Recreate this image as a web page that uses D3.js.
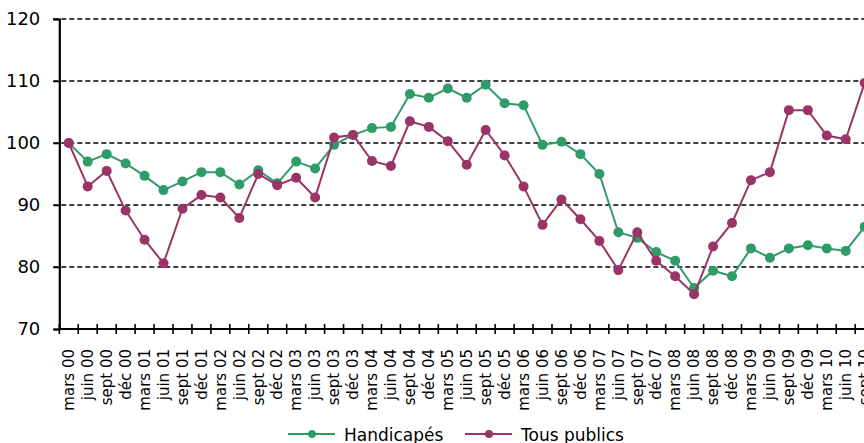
<!DOCTYPE html>
<html>
<head>
<meta charset="utf-8">
<script src="https://cdn.jsdelivr.net/npm/d3@7"></script>
<style>
  body { margin: 0; background: #fff; }
  svg { display: block; font-family: "DejaVu Sans", sans-serif; }
  .grid line { stroke: #000; stroke-dasharray: 5,3; stroke-width: 1.6; }
  .line { fill: none; stroke-width: 2; }
</style>
</head>
<body>
<div id="chart"></div>
<script>
const width = 864, height = 443;
const plot = { left: 59.3, top: 19, bottom: 329, step: 18.95 };

const quarters = ["mars", "juin", "sept", "déc"];
const categories = [];
for (let y = 0; y <= 10; y++) {
  quarters.forEach(function(q, i) {
    if (y === 10 && i > 2) return;
    categories.push(q + " " + String(y).padStart(2, "0"));
  });
}

const handicapes = [100, 97.0, 98.2, 96.7, 94.7, 92.4, 93.8, 95.3, 95.3, 93.3, 95.6, 93.5,
  97.0, 95.9, 99.7, 101.3, 102.4, 102.6, 107.9, 107.3, 108.8, 107.3, 109.4, 106.4,
  106.1, 99.7, 100.2, 98.2, 95.0, 85.6, 84.7, 82.4, 81.0, 76.6, 79.4, 78.5,
  83.0, 81.5, 83.0, 83.5, 83.0, 82.6, 86.5];
const tousPublics = [100, 93.0, 95.5, 89.1, 84.4, 80.6, 89.4, 91.6, 91.2, 87.9, 95.0, 93.2,
  94.4, 91.2, 100.9, 101.3, 97.1, 96.3, 103.5, 102.6, 100.3, 96.5, 102.1, 98.0,
  93.0, 86.8, 90.9, 87.7, 84.2, 79.5, 85.6, 81.0, 78.5, 75.6, 83.3, 87.1,
  94.0, 95.3, 105.3, 105.3, 101.2, 100.6, 109.7];
const yTicks = [70, 80, 90, 100, 110, 120];

const series = [
  { name: "Handicapés", values: handicapes, color: "#2f9b68" },
  { name: "Tous publics", values: tousPublics, color: "#9b3466" }
];

const x = d3.scaleBand()
  .domain(categories)
  .range([plot.left, plot.left + categories.length * plot.step])
  .padding(0);

const y = d3.scaleLinear()
  .domain([70, 120])
  .range([plot.bottom, plot.top]);

const svg = d3.select("#chart").append("svg")
  .attr("width", width)
  .attr("height", height);

// dashed gridlines
svg.append("g")
  .attr("class", "grid")
  .selectAll("line")
  .data(yTicks.filter(function(d) { return d > 70; }))
  .enter().append("line")
    .attr("x1", plot.left - 6)
    .attr("x2", width)
    .attr("y1", function(d) { return y(d); })
    .attr("y2", function(d) { return y(d); });

// y axis
const yAxis = svg.append("g")
  .attr("transform", "translate(" + plot.left + ",0)")
  .call(d3.axisLeft(y).tickValues(yTicks).tickSize(6).tickPadding(13));
yAxis.select(".domain").attr("stroke-width", 2.2);
yAxis.selectAll(".tick line").attr("stroke-width", 1.6);
yAxis.selectAll("text").attr("font-size", 18).attr("fill", "#000")
  .attr("font-family", "DejaVu Sans, sans-serif");

// x axis labels
const xAxis = svg.append("g")
  .attr("transform", "translate(0," + plot.bottom + ")")
  .call(d3.axisBottom(x).tickSize(0).tickPadding(0));
xAxis.select(".domain").remove();
xAxis.selectAll("text")
  .attr("font-size", 15)
  .attr("fill", "#000")
  .attr("font-family", "DejaVu Sans, sans-serif")
  .attr("transform", "rotate(-90)")
  .attr("text-anchor", "end")
  .attr("dy", "0.35em")
  .attr("dx", "0")
  .attr("x", -20)
  .attr("y", 0);

// x axis line and boundary ticks
svg.append("line")
  .attr("x1", plot.left).attr("x2", width)
  .attr("y1", plot.bottom).attr("y2", plot.bottom)
  .attr("stroke", "#000").attr("stroke-width", 2.2);
svg.append("g").selectAll("line")
  .data(categories)
  .enter().append("line")
    .attr("x1", function(d) { return x(d); })
    .attr("x2", function(d) { return x(d); })
    .attr("y1", plot.bottom - 5)
    .attr("y2", plot.bottom + 5)
    .attr("stroke", "#000")
    .attr("stroke-width", 1.6);

// lines and markers
const line = d3.line()
  .x(function(d, i) { return x(categories[i]) + x.bandwidth() / 2; })
  .y(function(d) { return y(d); });

series.forEach(function(s) {
  svg.append("path")
    .attr("class", "line")
    .attr("d", line(s.values))
    .attr("stroke", s.color);
  svg.append("g").selectAll("circle")
    .data(s.values)
    .enter().append("circle")
      .attr("cx", function(d, i) { return x(categories[i]) + x.bandwidth() / 2; })
      .attr("cy", function(d) { return y(d); })
      .attr("r", 5)
      .attr("fill", s.color);
});

// legend
const legendX = [288, 465];
const legend = svg.append("g").selectAll("g")
  .data(series)
  .enter().append("g")
    .attr("transform", function(d, i) { return "translate(" + legendX[i] + ",434)"; });
legend.append("line")
  .attr("x1", 0).attr("x2", 47)
  .attr("stroke", function(d) { return d.color; })
  .attr("stroke-width", 2);
legend.append("circle")
  .attr("cx", 24).attr("r", 4)
  .attr("fill", function(d) { return d.color; });
legend.append("text")
  .attr("x", 56)
  .attr("y", 7)
  .attr("font-size", 17)
  .text(function(d) { return d.name; });
</script>
</body>
</html>
